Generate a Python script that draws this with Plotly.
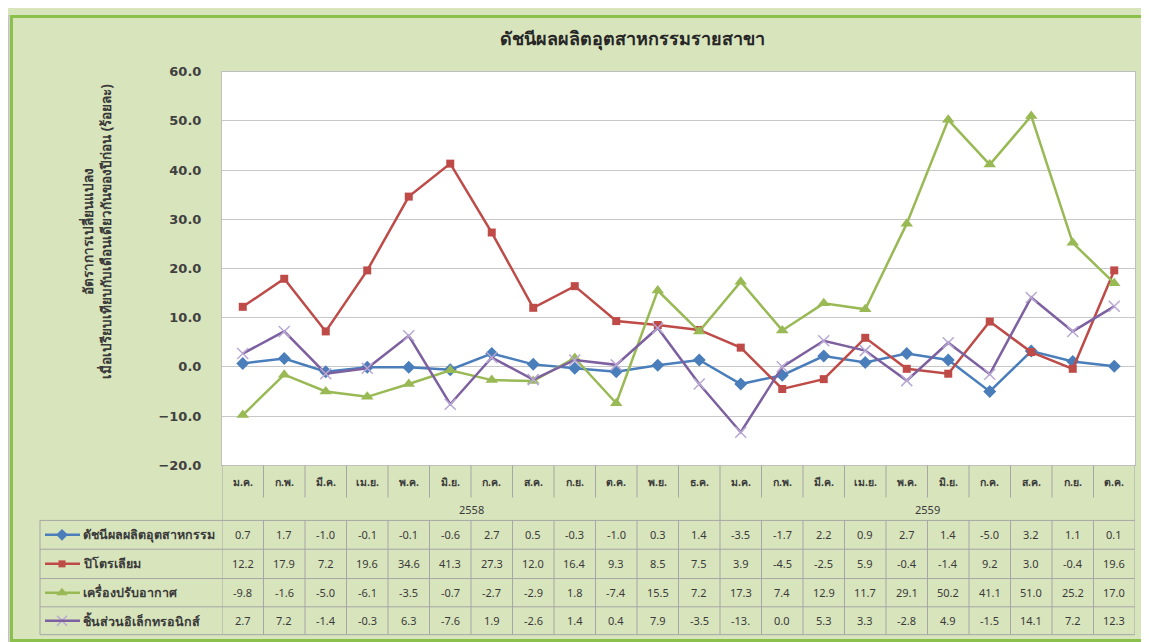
import plotly.graph_objects as go

W, H = 1149, 642

# ---------------- data ----------------
months_2558 = ["ม.ค.", "ก.พ.", "มี.ค.", "เม.ย.", "พ.ค.", "มิ.ย.", "ก.ค.", "ส.ค.", "ก.ย.", "ต.ค.", "พ.ย.", "ธ.ค."]
months_2559 = ["ม.ค.", "ก.พ.", "มี.ค.", "เม.ย.", "พ.ค.", "มิ.ย.", "ก.ค.", "ส.ค.", "ก.ย.", "ต.ค."]
years = ["2558", "2559"]
month_labels = months_2558 + months_2559

series_names = ["ดัชนีผลผลิตอุตสาหกรรม", "ปิโตรเลียม", "เครื่องปรับอากาศ", "ชิ้นส่วนอิเล็กทรอนิกส์"]
ipi = [0.7, 1.7, -1.0, -0.1, -0.1, -0.6, 2.7, 0.5, -0.3, -1.0, 0.3, 1.4,
       -3.5, -1.7, 2.2, 0.9, 2.7, 1.4, -5.0, 3.2, 1.1, 0.1]
petroleum = [12.2, 17.9, 7.2, 19.6, 34.6, 41.3, 27.3, 12.0, 16.4, 9.3, 8.5, 7.5,
             3.9, -4.5, -2.5, 5.9, -0.4, -1.4, 9.2, 3.0, -0.4, 19.6]
aircon = [-9.8, -1.6, -5.0, -6.1, -3.5, -0.7, -2.7, -2.9, 1.8, -7.4, 15.5, 7.2,
          17.3, 7.4, 12.9, 11.7, 29.1, 50.2, 41.1, 51.0, 25.2, 17.0]
electronics = [2.7, 7.2, -1.4, -0.3, 6.3, -7.6, 1.9, -2.6, 1.4, 0.4, 7.9, -3.5,
               -13.3, 0.0, 5.3, 3.3, -2.8, 4.9, -1.5, 14.1, 7.2, 12.3]
all_series = [ipi, petroleum, aircon, electronics]

title_text = "ดัชนีผลผลิตอุตสาหกรรมรายสาขา"
ytitle_text = "อัตราการเปลี่ยนแปลง<br>เมื่อเปรียบเทียบกับเดือนเดียวกันของปีก่อน (ร้อยละ)"

# ---------------- styles ----------------
colors = ["#4a7ebb", "#be4b48", "#98b954", "#7d60a0"]
mcolors = ["#4a7ebb", "#be4b48", "#98b954", "#b9a8d4"]
symbols = ["diamond", "square", "triangle-up", "x-thin"]
msizes = [10, 8, 11, 11]
BG = "#d8e4bc"
TXT = "#3a3a3a"
GRIDC = "#a6a6a6"
FONT = "Noto Sans, DejaVu Sans, sans-serif"

# layout positions on a pixel canvas (x2/y2 axes span the whole figure)
L, R, T, B = 214, 1127, 58, 461
rows_y = [517.5, 547, 577, 606, 634.5]
row_mid = [(rows_y[i] + rows_y[i + 1]) / 2 for i in range(4)]
cat_bottom = 494
month_y = 478.5
year_y = 506
n = len(month_labels)
n58 = len(months_2558)
xs = list(range(n))
YMIN, YMAX = -20, 60

fig = go.Figure()
for name, vals, c, mc, s, ms in zip(series_names, all_series, colors, mcolors, symbols, msizes):
    mk = dict(symbol=s, size=ms, color=mc)
    if s == "x-thin":
        mk["line"] = dict(color=mc, width=1.5)
    fig.add_trace(go.Scatter(x=xs, y=vals, mode="lines+markers", name=name,
                             line=dict(color=c, width=2.5), marker=mk,
                             showlegend=False, cliponaxis=False))

shapes = []
annotations = []
P = dict(xref="x2", yref="y2")

# white plot area (below gridlines)
shapes.append(dict(type="rect", xref="x", yref="y", x0=-0.5, x1=n - 0.5, y0=YMIN, y1=YMAX,
                   fillcolor="white", line=dict(width=0), layer="below"))

# outer frame
shapes.append(dict(type="rect", **P, x0=0, x1=1.5, y0=0, y1=H, fillcolor="#c3c3c6", line=dict(width=0)))
shapes.append(dict(type="rect", **P, x0=3.5, x1=W + 5, y0=1.5, y1=640.5,
                   fillcolor="rgba(0,0,0,0)", line=dict(color="#8cc04c", width=3)))

# table grid
for yy in rows_y:
    shapes.append(dict(type="line", **P, x0=32, x1=R, y0=yy, y1=yy, line=dict(color=GRIDC, width=1)))
shapes.append(dict(type="line", **P, x0=32, x1=32, y0=rows_y[0], y1=rows_y[-1], line=dict(color=GRIDC, width=1)))
for k in range(n + 1):
    xb = k - 0.5
    if k in (0, n58, n):
        shapes.append(dict(type="line", xref="x", yref="y2", x0=xb, x1=xb, y0=B, y1=rows_y[-1],
                           line=dict(color=GRIDC, width=1)))
    else:
        shapes.append(dict(type="line", xref="x", yref="y2", x0=xb, x1=xb, y0=B, y1=cat_bottom,
                           line=dict(color=GRIDC, width=1)))
        shapes.append(dict(type="line", xref="x", yref="y2", x0=xb, x1=xb, y0=rows_y[0], y1=rows_y[-1],
                           line=dict(color=GRIDC, width=1)))

# month and year labels
for i, m in enumerate(month_labels):
    annotations.append(dict(x=i, y=month_y, xref="x", yref="y2", text=m, showarrow=False,
                            font=dict(size=10.5, color=TXT, family=FONT, weight="bold")))
annotations.append(dict(x=(n58 - 1) / 2, y=year_y, xref="x", yref="y2", text=years[0], showarrow=False,
                        font=dict(size=11, color=TXT, family=FONT)))
annotations.append(dict(x=n58 + (n - n58 - 1) / 2, y=year_y, xref="x", yref="y2", text=years[1], showarrow=False,
                        font=dict(size=11, color=TXT, family=FONT)))

def cell(v):
    return f"{v:.1f}"[:4]

for r, vals in enumerate(all_series):
    for i, v in enumerate(vals):
        annotations.append(dict(x=i, y=row_mid[r], xref="x", yref="y2", text=cell(v), showarrow=False,
                                font=dict(size=11, color=TXT, family=FONT)))
    shapes.append(dict(type="line", **P, x0=37, x1=72, y0=row_mid[r], y1=row_mid[r],
                       line=dict(color=colors[r], width=2.5)))
    annotations.append(dict(x=73, y=row_mid[r], **P, text=series_names[r], showarrow=False,
                            xanchor="left", yanchor="middle",
                            font=dict(size=12.5, color=TXT, family=FONT, weight="bold")))

# legend key markers on the pixel canvas
for r in range(4):
    mk = dict(symbol=symbols[r], size=msizes[r] - 1, color=mcolors[r])
    if symbols[r] == "x-thin":
        mk["line"] = dict(color=mcolors[r], width=1.5)
    fig.add_trace(go.Scatter(x=[54], y=[row_mid[r]], xaxis="x2", yaxis="y2", mode="markers", marker=mk,
                             showlegend=False, cliponaxis=False, hoverinfo="skip"))

annotations.append(dict(x=624, y=24, **P, text=title_text, showarrow=False,
                        xanchor="center", yanchor="middle",
                        font=dict(size=18, color="#262626", family=FONT, weight="bold")))
annotations.append(dict(x=89, y=222, **P, text=ytitle_text, showarrow=False,
                        textangle=-90, xanchor="center", yanchor="middle",
                        font=dict(size=13.5, color=TXT, family=FONT, weight="bold")))

fig.update_layout(
    width=W, height=H,
    margin=dict(l=0, r=0, t=0, b=0),
    paper_bgcolor=BG, plot_bgcolor="rgba(0,0,0,0)",
    xaxis=dict(domain=[L / W, R / W], range=[-0.5, n - 0.5], showticklabels=False, showgrid=False,
               zeroline=False, showline=True, linecolor="#bfbfbf", mirror=True, ticks=""),
    yaxis=dict(domain=[1 - B / H, 1 - T / H], range=[YMIN, YMAX], dtick=10, tickformat=".1f",
               showgrid=True, gridcolor="#c8c8c8", gridwidth=1, zeroline=False,
               showline=True, linecolor="#bfbfbf", mirror=True, ticks="", ticklen=0,
               ticklabelstandoff=17,
               tickfont=dict(size=13, color="#404040", family="DejaVu Sans", weight="bold")),
    xaxis2=dict(domain=[0, 1], range=[0, W], anchor="y2", visible=False, fixedrange=True),
    yaxis2=dict(domain=[0, 1], range=[H, 0], anchor="x2", visible=False, fixedrange=True),
    shapes=shapes, annotations=annotations,
)

fig.write_html("out.html")
